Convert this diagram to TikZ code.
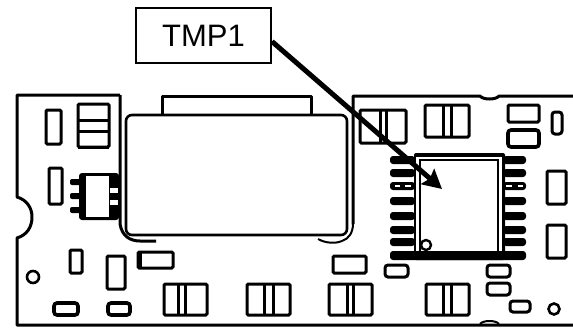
\documentclass[tikz,border=0pt]{standalone}
\usepackage{fontspec}
\setmainfont{Liberation Sans}
\usetikzlibrary{arrows.meta}
\tikzset{
  trace/.style={draw=black,line width=3pt,line join=round},
  part/.style={draw=black,line width=3pt,rounded corners=1.2pt,fill=white},
  pill/.style={draw=black,line width=3.6pt,rounded corners=3pt,fill=white},
  hole/.style={draw=black,line width=2.6pt,fill=white},
  labelbox/.style={draw=black,line width=2pt,fill=white,minimum width=135pt,minimum height=55pt,inner sep=0pt,font=\fontsize{31}{36}\selectfont},
  pointer/.style={draw=black,line width=5pt,-{Stealth[length=19pt,width=20pt,inset=3pt]}}
}
\begin{document}
\begin{tikzpicture}[x=1pt,y=-1pt]
\useasboundingbox (0,0) rectangle (573,327);
\fill[white] (0,0) rectangle (573,327);
% board outline
\draw[trace] (120,95) -- (17,95) -- (17,197) .. controls (27,200) and (32,208) .. (32,217)
  .. controls (32,227) and (27,235) .. (17,238) -- (17,325) -- (573,325);
\draw[trace] (120,95) -- (120,224) .. controls (122,236) and (130,241) .. (140,241) -- (156,241);
\draw[trace] (162,115) -- (162,96) -- (311,96) -- (311,115);
\draw[trace] (353,224) -- (353,96) -- (480,96) .. controls (483,100) and (496,100) .. (499,96) -- (573,96);
\draw[line width=2pt] (318,239) .. controls (325,243) and (335,244) .. (342,241) .. controls (349,239) and (353,232) .. (353,224);
\draw[line width=2pt] (480,324) .. controls (483,320) and (496,320) .. (499,324);
% crystal
\draw[draw=black,line width=2.6pt,fill=white,rounded corners=6pt] (126,115) rectangle (347,235);
% left components
\draw[part] (46,110) rectangle (61,144);
\draw[part] (78,104) rectangle (109,147);
\draw[trace] (78,120) -- (109,120);
\draw[trace] (78,131) -- (109,131);
\fill (78,146) rectangle (109,149);
\draw[part] (49,168) rectangle (62,204);
% SOT
\fill[rounded corners=3pt] (79,173) rectangle (119,220);
\fill[white] (86,176) rectangle (109,217);
\foreach \py in {182,196,210}{\fill[rounded corners=2pt] (70,\py-3) rectangle (85,\py+3);}
\fill[white] (110,188) rectangle (118,193);
\fill[white] (110,200) rectangle (118,205);
\draw[part] (70,250) rectangle (82,273);
\draw[part] (107,256) rectangle (125,289);
\draw[part] (138,252) rectangle (173,268);
\fill (137,252) rectangle (142,268);
\draw[hole] (33,277) circle (6);
\draw[pill] (54,303) rectangle (78,315);
\draw[pill] (108,303) rectangle (130,315);
% bottom triples
\draw[part] (164,284) rectangle (207,315);
\draw[trace] (178,284) -- (178,315);
\draw[trace] (185,284) -- (185,315);
\draw[part] (247,284) rectangle (290,315);
\draw[trace] (264,284) -- (264,315);
\draw[trace] (273,284) -- (273,315);
\draw[part] (329,284) rectangle (372,315);
\draw[trace] (347,284) -- (347,315);
\draw[trace] (353,284) -- (353,315);
\draw[part] (333,256) rectangle (366,273);
\draw[part] (426,284) rectangle (469,315);
\draw[trace] (443,284) -- (443,315);
\draw[trace] (451,284) -- (451,315);
% top right
\draw[part] (360,110) rectangle (406,143);
\draw[trace] (380,110) -- (380,143);
\draw[trace] (386,110) -- (386,143);
\draw[part] (425,105) rectangle (469,137);
\draw[trace] (443,105) -- (443,137);
\draw[trace] (451,105) -- (451,137);
\draw[part] (508,105) rectangle (539,122);
\draw[pill] (508,130) rectangle (539,147);
\draw[pill,line width=3pt] (552,112) rectangle (562,134);
\draw[part] (547,171) rectangle (566,204);
\draw[part] (547,225) rectangle (566,258);
% chip pins
\foreach \py in {160,173,186,201,216,230,242}{
  \fill[rounded corners=3pt] (390,\py-4) rectangle (415,\py+4);
  \fill[rounded corners=3pt] (503,\py-4) rectangle (526,\py+4);
}
\fill[white] (395,185) rectangle (400,187);
\fill[white] (405,185) rectangle (411,187);
\fill[white] (506,185) rectangle (512,187);
\fill[white] (518,185) rectangle (523,187);
% chip body
\fill[rounded corners=2pt] (414,153) rectangle (505,260);
\fill[rounded corners=3pt] (390,251) rectangle (526,260);
\fill[white] (416,156.5) rectangle (502,159);
\fill[white] (416,156.5) rectangle (418.5,251);
\fill[white] (499,156.5) rectangle (502,251);
\fill[white] (421,161) rectangle (497,251);
\draw[hole,line width=2.4pt] (426,245) circle (5);
\fill (414,251) rectangle (505,254);
% lower right small parts
\draw[pill,line width=3pt] (385,265) rectangle (408,277);
\draw[pill,line width=3pt] (487,265) rectangle (510,277);
\draw[pill,line width=3pt] (487,283) rectangle (510,295);
\draw[pill,line width=3pt] (510,301) rectangle (530,312);
\draw[hole] (554,309) circle (5.5);
% label and pointer
\node[labelbox] (tmpbox) at (203.5,35.5) {TMP1};
\coordinate (tmptip) at (442,189);
\draw[pointer] ([yshift=-6pt]tmpbox.east) -- (tmptip);
\end{tikzpicture}
\end{document}
